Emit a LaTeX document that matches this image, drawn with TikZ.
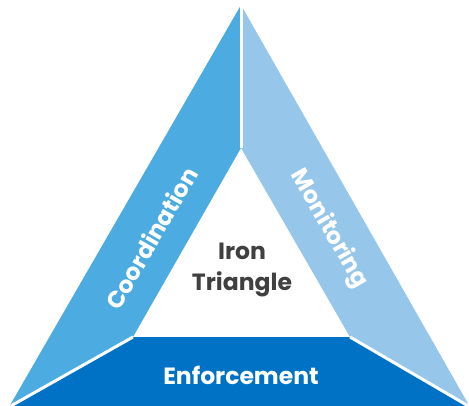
\documentclass[tikz,border=0pt]{standalone}
\usepackage{fontspec}
\setmainfont{Poppins}[BoldFont={* Bold}]
\definecolor{coordblue}{HTML}{4CABE0}
\definecolor{monblue}{HTML}{96C7EA}
\definecolor{enfblue}{HTML}{0072C5}
\definecolor{centertext}{HTML}{404040}
\tikzset{
  sidelabel/.style={font=\bfseries\fontsize{23.5}{26}\selectfont, text=white, inner sep=0pt},
  centerlabel/.style={font=\bfseries\fontsize{23.5}{31}\selectfont, text=centertext, align=center, inner sep=0pt},
  gapline/.style={draw=white, line width=3pt}
}
\begin{document}
\begin{tikzpicture}[x=1pt,y=-1pt]
\useasboundingbox (0,0) rectangle (469,405);
% outer and inner corners
\coordinate (top) at (241,5);
\coordinate (bl) at (9,407);
\coordinate (br) at (470,407);
\coordinate (itop) at (241,148);
\coordinate (ibl) at (133,337);
\coordinate (ibr) at (350,337);
% three sides of the triangle
\fill[coordblue] (top) -- (itop) -- (ibl) -- (bl) -- cycle;
\fill[monblue] (top) -- (br) -- (ibr) -- (itop) -- cycle;
\fill[enfblue] (ibl) -- (ibr) -- (br) -- (bl) -- cycle;
% white separators between the sides
\draw[gapline] (top) -- (itop);
\draw[gapline] (ibl) -- (bl);
\draw[gapline] (ibr) -- (br);
% labels
\node[sidelabel, rotate=60] (coord) at (151,238) {Coordination};
\node[sidelabel, rotate=-60] (mon) at (329,229) {Monitoring};
\node[sidelabel] (enf) at (241,375) {Enforcement};
\node[centerlabel] (iron) at (242,270) {Iron\\Triangle};
\end{tikzpicture}
\end{document}
